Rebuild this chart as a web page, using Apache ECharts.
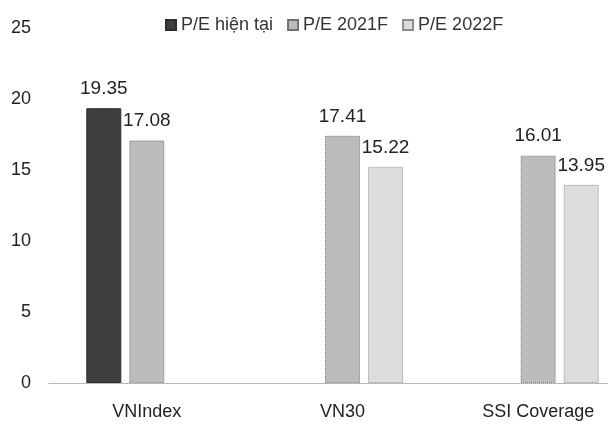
<!DOCTYPE html>
<html>
<head>
<meta charset="utf-8">
<script src="https://cdn.jsdelivr.net/npm/echarts@6/dist/echarts.min.js"></script>
<style>
html,body{margin:0;padding:0;background:#fff;}
#chart{width:608px;height:428px;}
</style>
</head>
<body>
<div id="chart"></div>
<script>
var categories = ['VNIndex', 'VN30', 'SSI Coverage'];
var seriesNames = ['P/E hiện tại', 'P/E 2021F', 'P/E 2022F'];
var peCurrent = [19.35, null, null];
var pe2021F = [17.08, 17.41, 16.01];
var pe2022F = [null, 15.22, 13.95];
var yTicks = [0, 5, 10, 15, 20, 25];

var FONT = "'Liberation Sans Narrow', 'Arial Narrow', 'Liberation Sans', sans-serif";
var fills = ['#3c3f3e', '#bcbcbc', '#dddddd'];
var borders = ['#2c2e2d', '#707070', '#8c8c8c'];

function mkSeries(name, data, i) {
  return {
    name: name,
    type: 'bar',
    data: data.map(function (v) { return v === null ? '-' : v; }),
    barWidth: 35,
    barGap: '23%',
    itemStyle: {
      color: fills[i],
      borderColor: borders[i],
      borderWidth: 1,
      borderType: i === 0 ? 'solid' : 'dotted'
    },
    label: {
      show: true,
      position: 'top',
      distance: 10,
      color: '#222',
      fontFamily: FONT,
      fontSize: 19,
      formatter: function (p) { return p.value.toFixed(2); }
    }
  };
}

var chart = echarts.init(document.getElementById('chart'), null, {renderer: 'canvas'});
chart.setOption({
  animation: false,
  backgroundColor: '#ffffff',
  legend: {
    data: seriesNames,
    top: 11,
    left: 160,
    itemWidth: 10,
    itemHeight: 10,
    itemGap: 14,
    icon: 'rect',
    textStyle: { fontFamily: FONT, fontSize: 18, color: '#333' }
  },
  grid: { left: 49, width: 587, top: 28, bottom: 45, containLabel: false, outerBoundsMode: 'none' },
  xAxis: {
    type: 'category',
    data: categories,
    axisLine: { show: true, lineStyle: { color: '#aaa', type: 'dotted', width: 1 } },
    axisTick: { show: false },
    axisLabel: { margin: 20, fontFamily: FONT, fontSize: 18, color: '#222' }
  },
  yAxis: {
    type: 'value',
    min: yTicks[0],
    max: yTicks[yTicks.length - 1],
    interval: 5,
    axisLine: { show: false },
    axisTick: { show: false },
    splitLine: { show: false },
    axisLabel: { margin: 18, fontFamily: FONT, fontSize: 18, color: '#222' }
  },
  series: [
    mkSeries(seriesNames[0], peCurrent, 0),
    mkSeries(seriesNames[1], pe2021F, 1),
    mkSeries(seriesNames[2], pe2022F, 2)
  ]
});
</script>
</body>
</html>
